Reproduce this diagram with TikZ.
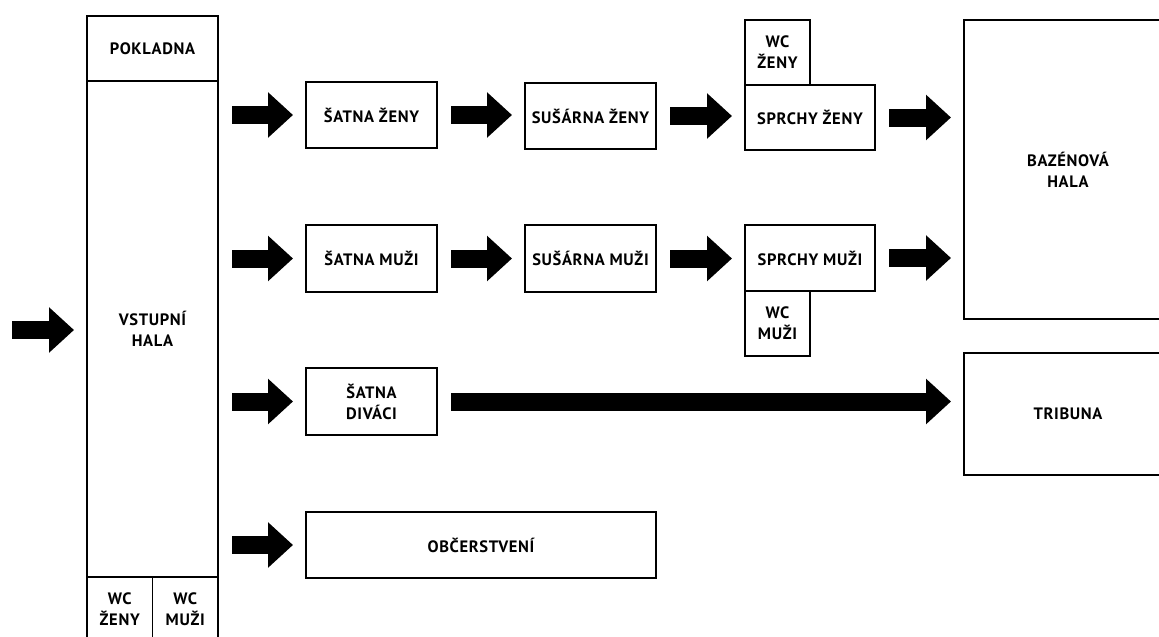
\documentclass[tikz,border=0pt]{standalone}
\usepackage{fontspec}
\setmainfont{PT Sans}[LetterSpace=4]
\usepackage{tikz}
\usetikzlibrary{arrows.meta}

\begin{document}
\begin{tikzpicture}[
  x=1pt, y=-1pt,
  room/.style={draw, line width=1.4pt, inner sep=0pt, outer sep=0pt,
    align=center, font=\fontsize{16.5}{21}\selectfont\bfseries},
  flow/.style={line width=18pt, -{Triangle[length=25pt,width=44pt]},
    shorten <=14pt, shorten >=13pt}
]
\useasboundingbox (0,0) rectangle (1159,637);

% entrance block
\node[room, minimum width=131pt, minimum height=65pt] (kasa) at (152.5,48.5) {POKLADNA};
\node[room, minimum width=131pt, minimum height=496pt] (hall) at (152.5,329) {VSTUPNÍ\\HALA};
\node[room, minimum width=65.5pt, minimum height=65pt] (wcHz) at (119.75,609.5) {WC\\ŽENY};
\node[room, minimum width=65.5pt, minimum height=65pt] (wcHm) at (185.25,609.5) {WC\\MUŽI};

% women
\node[room, minimum width=131pt, minimum height=66pt] (satZ) at (371.5,115) {ŠATNA ŽENY};
\node[room, minimum width=131pt, minimum height=66pt] (susZ) at (590.5,116) {SUŠÁRNA ŽENY};
\node[room, minimum width=130pt, minimum height=65pt] (sprZ) at (810,117.5) {SPRCHY ŽENY};
\node[room, minimum width=65pt, minimum height=65pt] (wcZ) at (777.5,52.5) {WC\\ŽENY};

% men
\node[room, minimum width=131pt, minimum height=67pt] (satM) at (371.5,258.5) {ŠATNA MUŽI};
\node[room, minimum width=131pt, minimum height=67pt] (susM) at (590.5,258.5) {SUŠÁRNA MUŽI};
\node[room, minimum width=130pt, minimum height=66pt] (sprM) at (810,258) {SPRCHY MUŽI};
\node[room, minimum width=65pt, minimum height=65pt] (wcM) at (777.5,323.5) {WC\\MUŽI};

% spectators, food, halls
\node[room, minimum width=131pt, minimum height=67pt] (satD) at (371.5,401.5) {ŠATNA\\DIVÁCI};
\node[room, minimum width=350pt, minimum height=66pt] (food) at (481,545) {OBČERSTVENÍ};
\node[room, minimum width=208pt, minimum height=299pt] (bazen) at (1068,169.5) {BAZÉNOVÁ\\HALA};
\node[room, minimum width=208pt, minimum height=122pt] (trib) at (1068,414) {TRIBUNA};

\coordinate (in) at (12,330);

% flows
\draw[flow, shorten <=0pt] (in) -- (hall.west |- in);
\foreach \t in {satZ,satM,satD,food}
  \draw[flow] (hall.east |- \t) -- (\t.west);
\foreach \a/\b in {satZ/susZ,susZ/sprZ,satM/susM,susM/sprM}
  \draw[flow] (\a.east) -- (\b.west |- \a.east);
\draw[flow] (sprZ.east) -- (sprZ.east -| bazen.west);
\draw[flow] (sprM.east) -- (sprM.east -| bazen.west);
\draw[flow] (satD.east) -- (satD.east -| trib.west);

\end{tikzpicture}
\end{document}
